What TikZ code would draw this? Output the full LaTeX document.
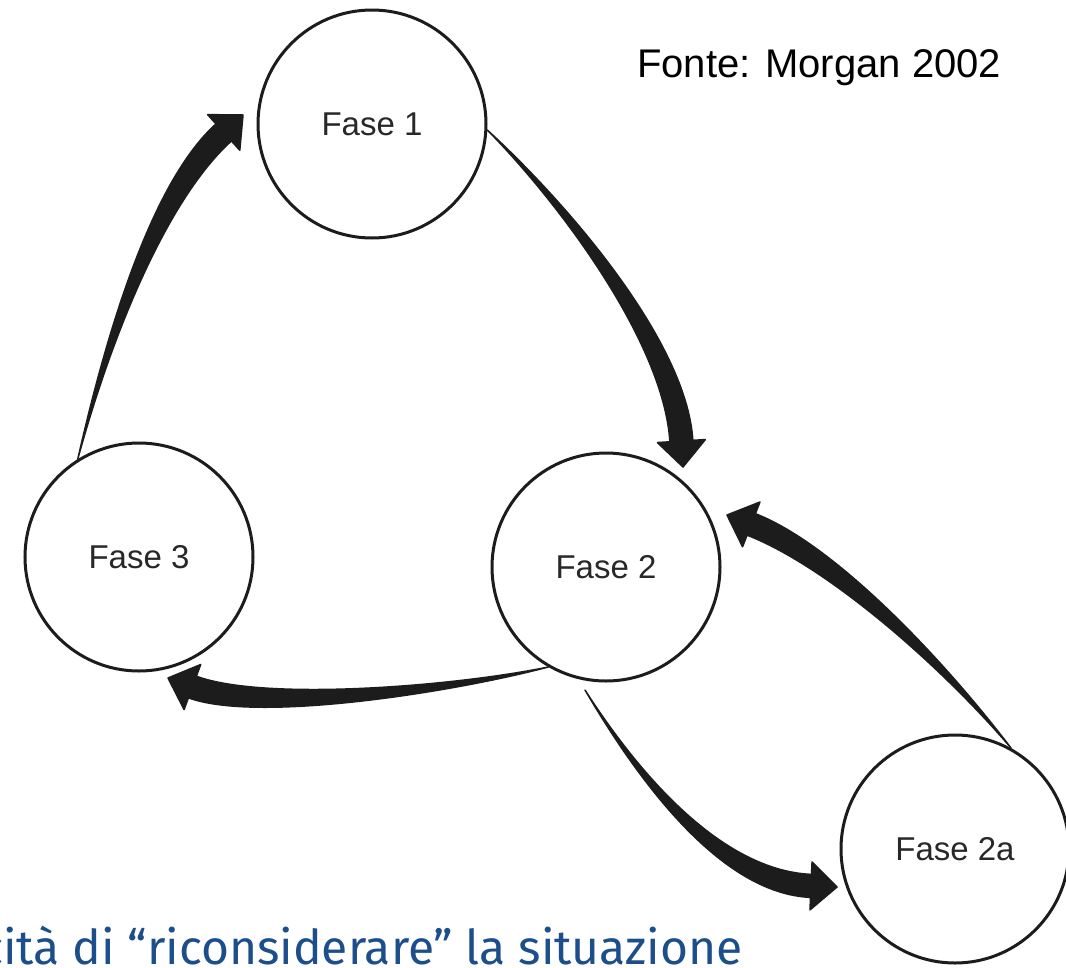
\documentclass[tikz,border=0pt]{standalone}
\usepackage{fontspec}
\setmainfont{Liberation Sans}
\newfontfamily\bluefont{Fira Sans}
\usetikzlibrary{calc}
\definecolor{inkc}{RGB}{28,28,28}
\definecolor{txtc}{RGB}{40,40,40}
\definecolor{bluetxt}{RGB}{28,78,140}
\tikzset{
  phase/.style={circle, draw=inkc, line width=3pt, minimum size=228pt,
    inner sep=0pt, text=txtc, font=\fontsize{33}{33}\selectfont},
  arrowfill/.style={fill=inkc, draw=inkc, line width=1.5pt, line join=round},
}
\newcommand\taperarrow[4]{%
  \coordinate (tE) at ($(#4)!26pt!(#3)$);
  \coordinate (tL) at ($(tE)!11.5pt!90:(#3)$);
  \coordinate (tR) at ($(tE)!11.5pt!-90:(#3)$);
  \coordinate (hL) at ($(tE)!24pt!90:(#3)$);
  \coordinate (hR) at ($(tE)!24pt!-90:(#3)$);
  \filldraw[arrowfill] (#1) .. controls ($(#2)+0.3*(tL)-0.3*(tE)$) and ($(#3)+(tL)-(tE)$) .. (tL)
    -- (hL) -- (#4) -- (hR) -- (tR)
    .. controls ($(#3)+(tR)-(tE)$) and ($(#2)+0.3*(tR)-0.3*(tE)$) .. (#1) -- cycle;
}
\begin{document}
\begin{tikzpicture}[x=1pt,y=-1pt]
  \useasboundingbox (0,0) rectangle (1066,967);
  \fill[white] (0,0) rectangle (1066,967);
  \clip (0,0) rectangle (1066,967);

  \node[phase] (f1)  at (372,124) {Fase 1};
  \node[phase] (f3)  at (139,557) {Fase 3};
  \node[phase] (f2)  at (606,567) {Fase 2};
  \node[phase] (f2a) at (955,849) {Fase 2a};

  % control points and tips
  \coordinate (a1) at (560,200);  \coordinate (a2) at (675,340);  \coordinate (aT) at (683,467);
  \coordinate (b1) at (110,330);  \coordinate (b2) at (160,190);  \coordinate (bT) at (243,115);
  \coordinate (c1) at (450,690);  \coordinate (c2) at (260,712);  \coordinate (cT) at (168,678);
  \coordinate (dS) at (585,690);
  \coordinate (d1) at (637,775);  \coordinate (d2) at (720,882);  \coordinate (dT) at (837,887);
  \coordinate (e1) at (940,660);  \coordinate (e2) at (830,555);  \coordinate (eT) at (727,515);

  \taperarrow{f1.-3}{a1}{a2}{aT}
  \taperarrow{f3.122}{b1}{b2}{bT}
  \taperarrow{f2.240}{c1}{c2}{cT}
  \taperarrow{dS}{d1}{d2}{dT}
  \taperarrow{f2a.61}{e1}{e2}{eT}

  \node[anchor=base west, font=\fontsize{40}{40}\selectfont, inner sep=0pt] (src) at (637,77) {Fonte: Morgan 2002};
  \node[anchor=base east, font=\bluefont\fontsize{48}{48}\selectfont, text=bluetxt, inner sep=0pt] (cap) at (743,964) {cità di “riconsiderare” la situazione};
\end{tikzpicture}
\end{document}
